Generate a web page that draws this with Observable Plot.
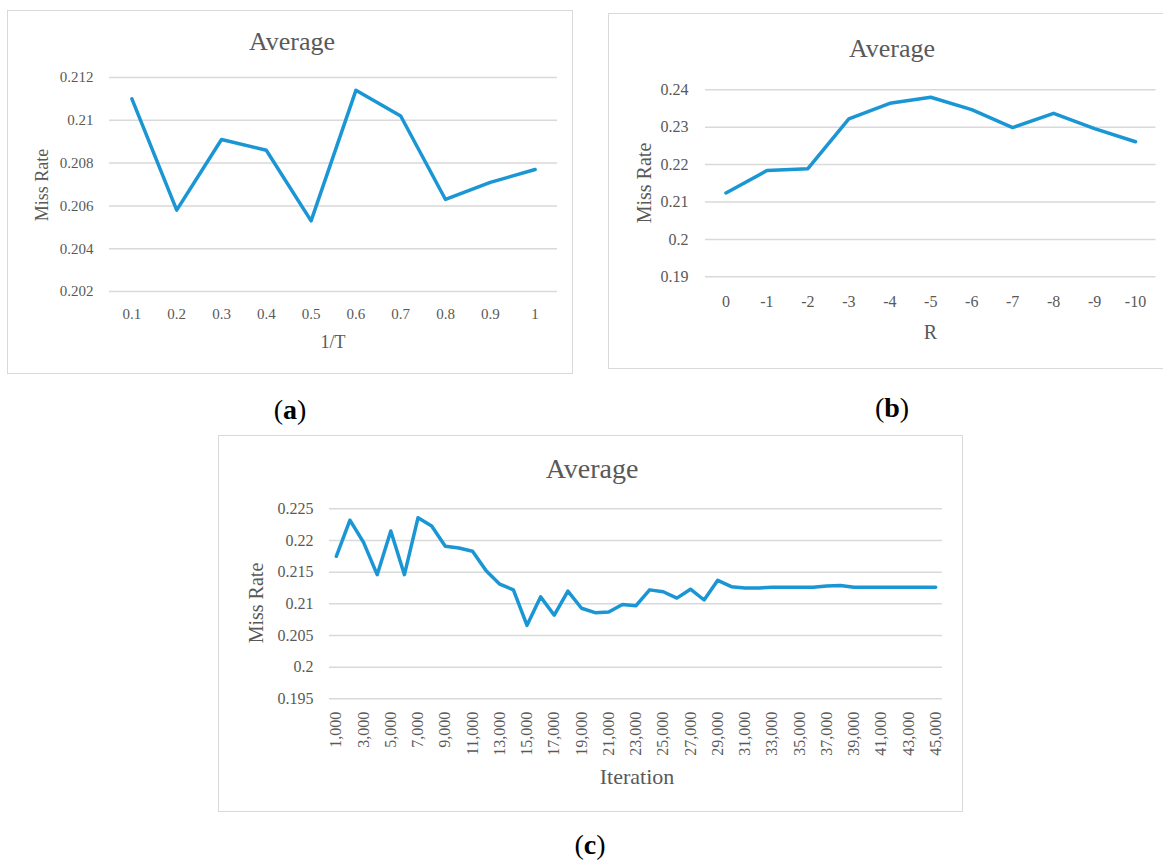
<!DOCTYPE html>
<html>
<head>
<meta charset="utf-8">
<script src="https://cdn.jsdelivr.net/npm/d3@7"></script>
<script src="https://cdn.jsdelivr.net/npm/@observablehq/plot@0.6"></script>
<style>
  html, body { margin: 0; padding: 0; background: #fff; }
  #page { position: relative; width: 1163px; height: 861px; overflow: hidden; background: #fff; font-family: "Liberation Serif", serif; }
  .box { position: absolute; border: 1.5px solid #d9d9d9; box-sizing: border-box; }
  .plot { position: absolute; }
  .txt { position: absolute; transform: translate(-50%, -50%); white-space: nowrap; color: #595959; font-family: "Liberation Serif", serif; line-height: 1; }
  .rot { transform: translate(-50%, -50%) rotate(-90deg); }
  .panel { color: #000; }
</style>
</head>
<body>
<div id="page"></div>
<script>
// ---------- data ----------
const tValues = ["0.1", "0.2", "0.3", "0.4", "0.5", "0.6", "0.7", "0.8", "0.9", "1"];
const missRateA = [0.2110, 0.2058, 0.2091, 0.2086, 0.2053, 0.2114, 0.2102, 0.2063, 0.2071, 0.2077];
const yTicksA = [0.202, 0.204, 0.206, 0.208, 0.21, 0.212];

const rValues = ["0", "-1", "-2", "-3", "-4", "-5", "-6", "-7", "-8", "-9", "-10"];
const missRateB = [0.2124, 0.2184, 0.2189, 0.2322, 0.2364, 0.2380, 0.2347, 0.2299, 0.2337, 0.2296, 0.2261];
const yTicksB = [0.19, 0.2, 0.21, 0.22, 0.23, 0.24];

const iterations = [1000, 2000, 3000, 4000, 5000, 6000, 7000, 8000, 9000, 10000,
  11000, 12000, 13000, 14000, 15000, 16000, 17000, 18000, 19000, 20000,
  21000, 22000, 23000, 24000, 25000, 26000, 27000, 28000, 29000, 30000,
  31000, 32000, 33000, 34000, 35000, 36000, 37000, 38000, 39000, 40000,
  41000, 42000, 43000, 44000, 45000];
const missRateC = [0.2175, 0.2232, 0.2197, 0.2146, 0.2215, 0.2146, 0.2236, 0.2223, 0.2191, 0.2188,
  0.2183, 0.2152, 0.2131, 0.2122, 0.2066, 0.2111, 0.2082, 0.2120, 0.2093, 0.2086,
  0.2087, 0.2099, 0.2097, 0.2122, 0.2119, 0.2109, 0.2123, 0.2106, 0.2137, 0.2127,
  0.2125, 0.2125, 0.2126, 0.2126, 0.2126, 0.2126, 0.2128, 0.2129, 0.2126, 0.2126,
  0.2126, 0.2126, 0.2126, 0.2126, 0.2126];
const xTicksC = [1000, 3000, 5000, 7000, 9000, 11000, 13000, 15000, 17000, 19000, 21000, 23000,
  25000, 27000, 29000, 31000, 33000, 35000, 37000, 39000, 41000, 43000, 45000];
const yTicksC = [0.195, 0.2, 0.205, 0.21, 0.215, 0.22, 0.225];

// ---------- helpers ----------
const page = document.getElementById("page");
const LINE = "#1a96d4";
const GRID = "#d9d9d9";

function addBox(l, t, w, h) {
  const d = document.createElement("div");
  d.className = "box";
  Object.assign(d.style, {left: l + "px", top: t + "px", width: w + "px", height: h + "px"});
  page.appendChild(d);
}
function addText(str, x, y, size, cls = "") {
  const d = document.createElement("div");
  d.className = "txt " + cls;
  d.innerHTML = str;
  Object.assign(d.style, {left: x + "px", top: y + "px", fontSize: size + "px"});
  page.appendChild(d);
}
function addPlot(svg, l, t) {
  svg.classList.add("plot");
  svg.style.left = l + "px";
  svg.style.top = t + "px";
  page.appendChild(svg);
}

// ---------- panel (a) ----------
addBox(7, 10, 566, 364);
const dataA = tValues.map((t, i) => ({t, v: missRateA[i]}));
addPlot(Plot.plot({
  width: 566, height: 364,
  marginLeft: 102, marginRight: 16, marginTop: 67, marginBottom: 83,
  style: {fontFamily: "Liberation Serif", fontSize: "15px", color: "#595959", background: "transparent", overflow: "visible"},
  x: {type: "point", domain: tValues, round: false, label: null, tickSize: 0, tickPadding: 17},
  y: {domain: [0.202, 0.212], ticks: yTicksA, tickFormat: d => String(d), label: null, tickSize: 0, tickPadding: 16},
  marks: [
    Plot.gridY(yTicksA, {stroke: GRID, strokeOpacity: 1, strokeWidth: 1.5}),
    Plot.line(dataA, {x: "t", y: "v", stroke: LINE, strokeWidth: 3.5})
  ]
}), 7, 10);
addText("Average", 292, 42, 26);
addText("1/T", 333, 342, 18);
addText("Miss Rate", 42, 185, 18, "rot");
addText("(<b>a</b>)", 290, 410, 28, "panel");

// ---------- panel (b) ----------
addBox(608, 13, 562, 356);
const dataB = rValues.map((r, i) => ({r, v: missRateB[i]}));
addPlot(Plot.plot({
  width: 562, height: 356,
  marginLeft: 97, marginRight: 14.5, marginTop: 76.3, marginBottom: 92.7,
  style: {fontFamily: "Liberation Serif", fontSize: "16px", color: "#595959", background: "transparent", overflow: "visible"},
  x: {type: "point", domain: rValues, round: false, label: null, tickSize: 0, tickPadding: 19},
  y: {domain: [0.19, 0.24], ticks: yTicksB, tickFormat: d => String(d), label: null, tickSize: 0, tickPadding: 17},
  marks: [
    Plot.gridY(yTicksB, {stroke: GRID, strokeOpacity: 1, strokeWidth: 1.5}),
    Plot.line(dataB, {x: "r", y: "v", stroke: LINE, strokeWidth: 3.5})
  ]
}), 608, 13);
addText("Average", 892, 49, 26);
addText("R", 930.5, 332, 20);
addText("Miss Rate", 643.5, 183, 20, "rot");
addText("(<b>b</b>)", 892, 408, 28, "panel");

// ---------- panel (c) ----------
addBox(218, 435, 745, 377);
const dataC = iterations.map((it, i) => ({it, v: missRateC[i]}));
addPlot(Plot.plot({
  width: 745, height: 377,
  marginLeft: 111, marginRight: 21, marginTop: 73.3, marginBottom: 113.7,
  style: {fontFamily: "Liberation Serif", fontSize: "16px", color: "#595959", background: "transparent", overflow: "visible"},
  x: {type: "point", domain: iterations, round: false, ticks: xTicksC, tickFormat: d3.format(","), tickRotate: -90, label: null, tickSize: 0, tickPadding: 13},
  y: {domain: [0.195, 0.225], ticks: yTicksC, tickFormat: d => String(d), label: null, tickSize: 0, tickPadding: 16},
  marks: [
    Plot.gridY(yTicksC, {stroke: GRID, strokeOpacity: 1, strokeWidth: 1.5}),
    Plot.line(dataC, {x: "it", y: "v", stroke: LINE, strokeWidth: 3.5})
  ]
}), 218, 435);
addText("Average", 592, 469, 28);
addText("Iteration", 637, 777, 22);
addText("Miss Rate", 256, 603, 20, "rot");
addText("(<b>c</b>)", 590, 845, 28, "panel");
</script>
</body>
</html>
